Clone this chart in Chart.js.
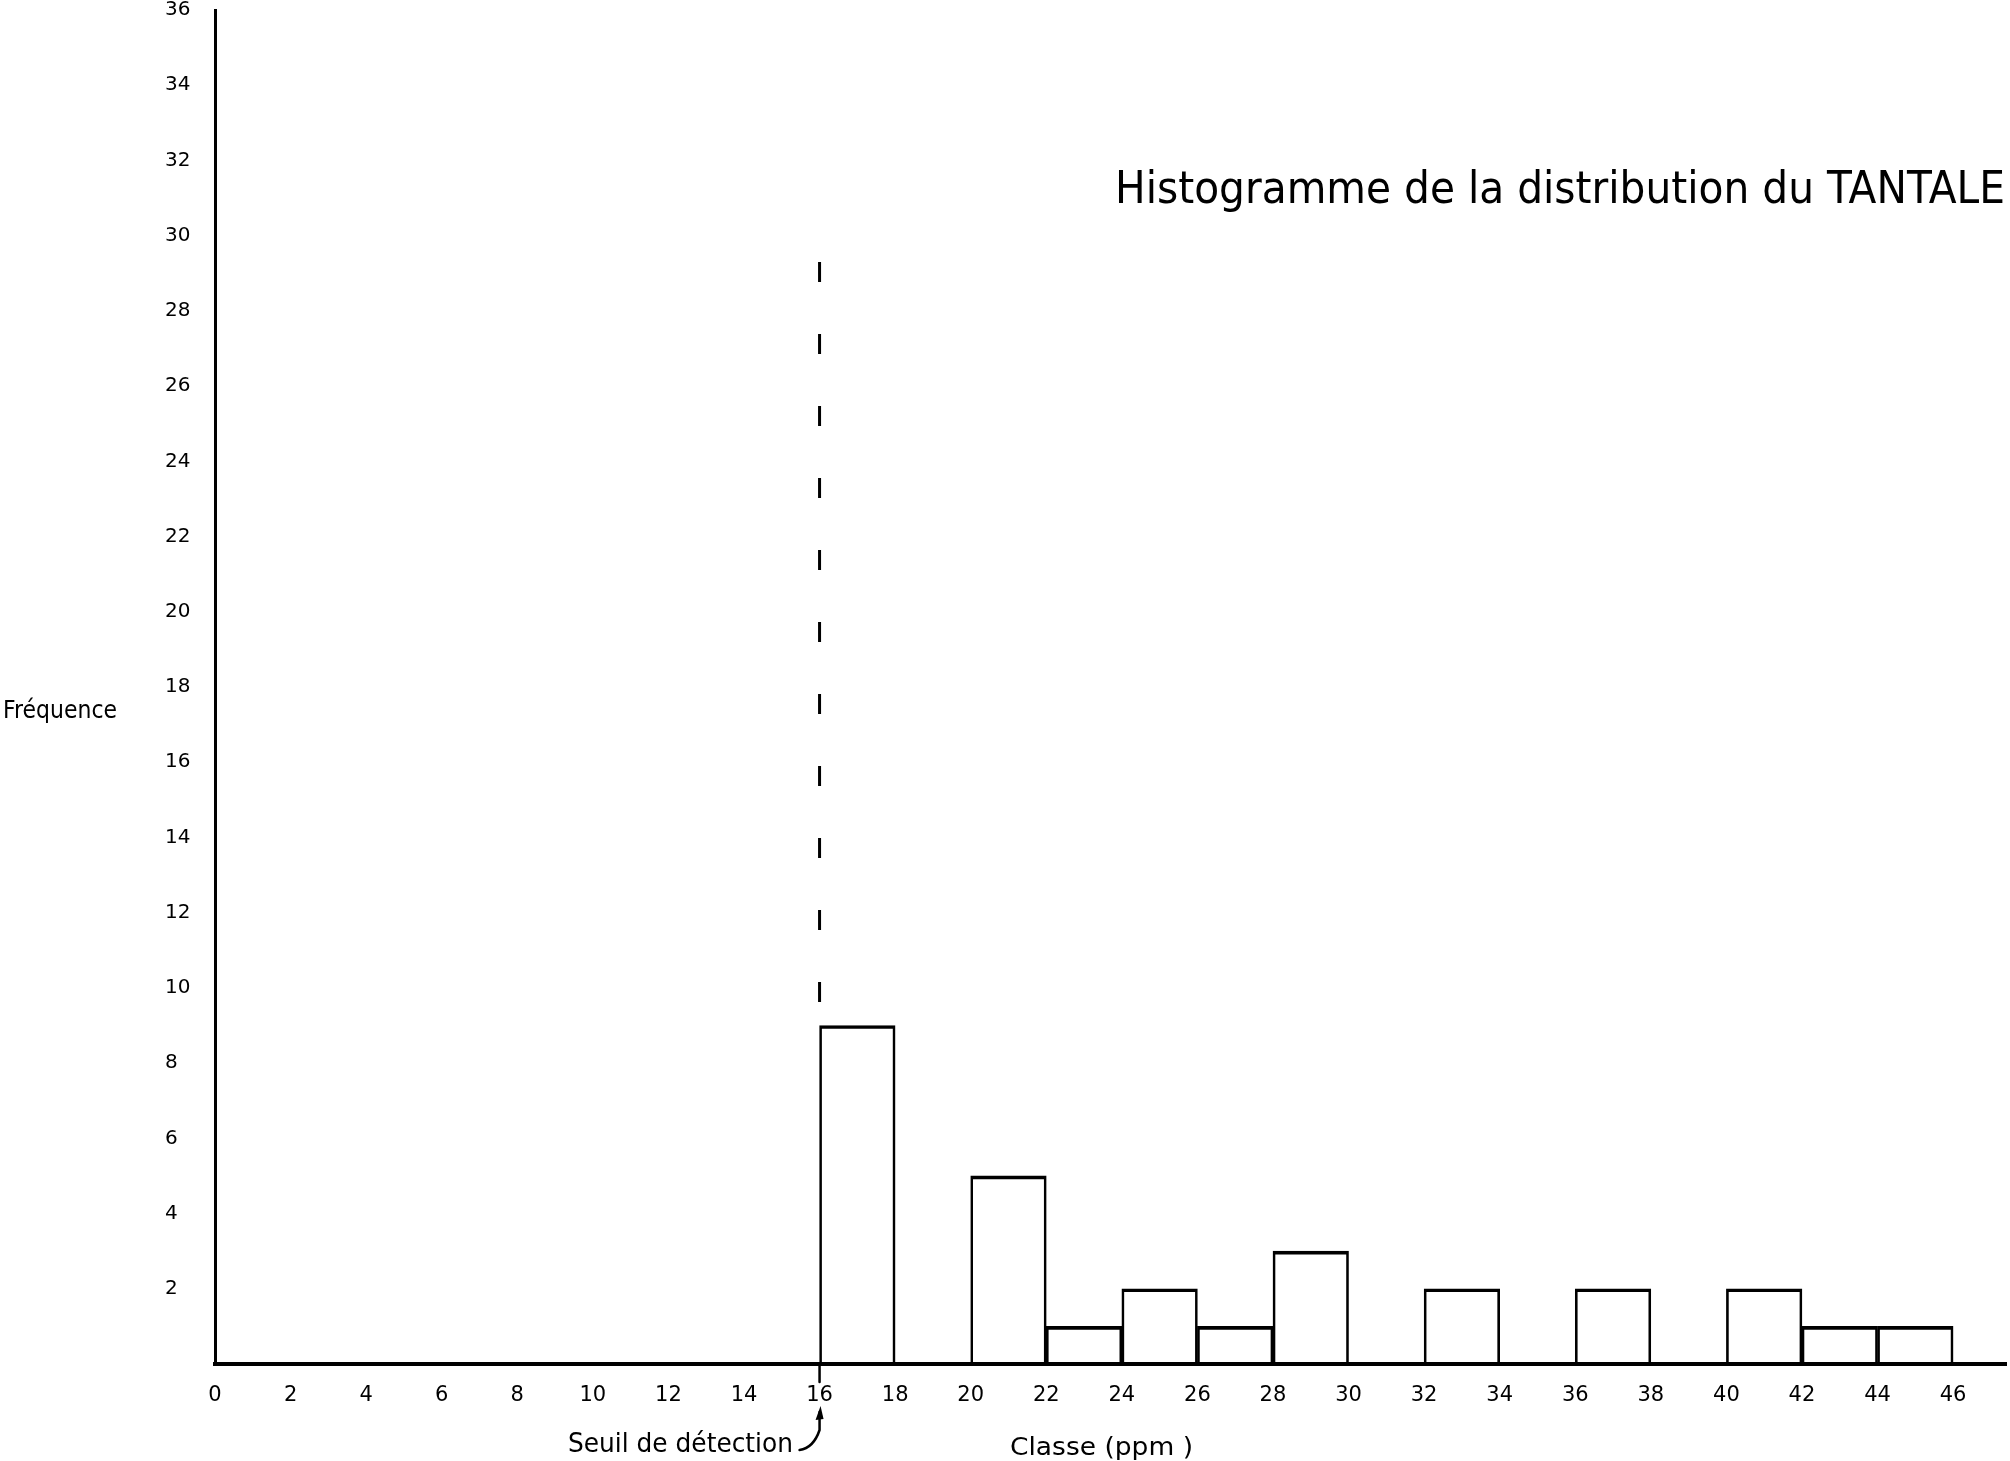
<!DOCTYPE html>
<html><head><meta charset="utf-8">
<script src="https://cdn.jsdelivr.net/npm/chart.js@4.4.0/dist/chart.umd.min.js"></script>
<style>html,body{margin:0;padding:0;background:#fff;} canvas{display:block;}</style>
</head><body>
<canvas id="c" width="2010" height="1461"></canvas>
<script>
// ---- data ----
const binStarts   = [16, 20, 22, 24, 26, 28, 32, 36, 40, 42, 44];
const binWidth    = 2;
const frequencies = [9, 5, 1, 2, 1, 3, 2, 2, 2, 1, 1];
const xTickValues = [0, 2, 4, 6, 8, 10, 12, 14, 16, 18, 20, 22, 24, 26, 28, 30, 32, 34, 36, 38, 40, 42, 44, 46];
const yTickValues = [2, 4, 6, 8, 10, 12, 14, 16, 18, 20, 22, 24, 26, 28, 30, 32, 34, 36];
const threshold   = 16;          // seuil de détection (ppm)
const thresholdLineRange = [29.3, 9.6]; // dashed line extent (frequency units)
const titleText   = "Histogramme de la distribution du TANTALE";
const yTitleText  = "Fréquence";
const xTitleText  = "Classe (ppm )";
const thresholdText = "Seuil de détection";

const FONT = '"DejaVu Sans", sans-serif';

function fitText(ctx, text, left, baseline, size, width) {
  ctx.save();
  ctx.font = size + 'px ' + FONT;
  const w = ctx.measureText(text).width;
  ctx.translate(left, baseline);
  ctx.scale(width / w, 1);
  ctx.textAlign = 'left';
  ctx.textBaseline = 'alphabetic';
  ctx.fillStyle = '#000';
  ctx.fillText(text, 0, 0);
  ctx.restore();
}

const annotations = {
  id: 'annotations',
  afterDraw(chart) {
    const ctx = chart.ctx;
    fitText(ctx, titleText, 1115, 203, 44, 890);
    fitText(ctx, yTitleText, 3, 718, 25, 114);
    fitText(ctx, thresholdText, 568, 1452, 27, 225);
    fitText(ctx, xTitleText, 1010, 1455, 25, 183);

    const px = chart.scales.x.getPixelForValue(threshold);
    const bottom = chart.chartArea.bottom;
    ctx.save();
    ctx.strokeStyle = '#000';
    ctx.fillStyle = '#000';
    ctx.lineWidth = 2.5;
    ctx.lineCap = 'round';
    ctx.beginPath();
    ctx.moveTo(px, bottom);
    ctx.lineTo(px, bottom + 18);
    ctx.stroke();
    ctx.beginPath();
    ctx.moveTo(px, bottom + 48);
    ctx.lineTo(px, bottom + 66);
    ctx.quadraticCurveTo(px - 6, bottom + 84, px - 20, bottom + 86);
    ctx.stroke();
    ctx.beginPath();
    ctx.moveTo(px + 1, bottom + 42);
    ctx.lineTo(px - 4, bottom + 56);
    ctx.lineTo(px + 4, bottom + 55);
    ctx.closePath();
    ctx.fill();
    ctx.restore();
  }
};

const barData = binStarts.map((s, i) => ({ x: s + binWidth / 2, y: frequencies[i] }));
const dashData = thresholdLineRange.map(v => ({ x: threshold, y: v }));

new Chart(document.getElementById('c'), {
  type: 'bar',
  data: {
    datasets: [
      {
        type: 'bar',
        data: barData,
        backgroundColor: 'rgba(255,255,255,0)',
        borderColor: '#000',
        borderWidth: { top: 3, left: 2, right: 2, bottom: 0 },
        borderSkipped: false,
        barPercentage: 1.0,
        categoryPercentage: 1.0
      },
      {
        type: 'line',
        data: dashData,
        borderColor: '#000',
        borderWidth: 3,
        borderDash: [20, 52],
        pointRadius: 0,
        fill: false
      }
    ]
  },
  options: {
    responsive: false,
    animation: false,
    devicePixelRatio: 1,
    layout: { padding: { left: 165, top: 10, right: 4, bottom: 0 } },
    plugins: { legend: { display: false }, tooltip: { enabled: false }, title: { display: false } },
    scales: {
      x: {
        type: 'linear',
        offset: false,
        min: 0,
        max: 47.4,
        grid: { display: false, drawTicks: false, offset: false },
        border: { display: true, color: '#000', width: 4 },
        ticks: {
          autoSkip: false, maxRotation: 0, includeBounds: false,
          padding: 19, color: '#000', font: { family: FONT, size: 21 },
          callback: v => String(v)
        },
        afterBuildTicks(scale) { scale.ticks = xTickValues.map(v => ({ value: v })); },
        afterFit(scale) {
          scale.height = 97;
          scale.paddingLeft = 0; scale.paddingRight = 0;
          scale.paddingTop = 0; scale.paddingBottom = 0;
        }
      },
      y: {
        type: 'linear',
        min: 0,
        max: 36,
        grid: { display: false, drawTicks: false },
        border: { display: true, color: '#000', width: 3 },
        ticks: {
          autoSkip: false, crossAlign: 'far', padding: 0,
          color: '#000', font: { family: FONT, size: 20 },
          callback: v => String(v)
        },
        afterBuildTicks(scale) { scale.ticks = yTickValues.map(v => ({ value: v })); },
        afterFit(scale) {
          scale.width = 50;
          scale.paddingLeft = 0; scale.paddingRight = 0;
          scale.paddingTop = 0; scale.paddingBottom = 0;
        }
      }
    }
  },
  plugins: [annotations]
});
</script>
</body></html>
